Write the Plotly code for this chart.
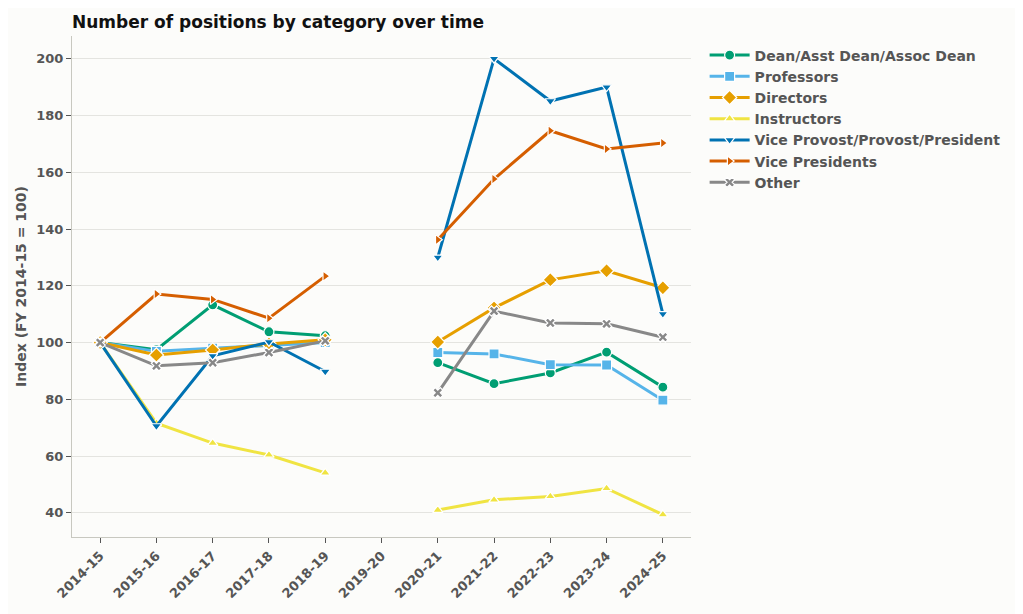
import plotly.graph_objects as go

years = ["2014-15", "2015-16", "2016-17", "2017-18", "2018-19", "2019-20",
         "2020-21", "2021-22", "2022-23", "2023-24", "2024-25"]

dean = [100, 97.5, 113.3, 103.8, 102.4, None, 92.9, 85.5, 89.3, 96.6, 84.3]
professors = [100, 96.9, 98.0, 99.0, 100.0, None, 96.5, 96.0, 92.2, 92.1, 79.7]
directors = [100, 95.6, 97.4, 99.5, 101.0, None, 100.2, 112.2, 122.1, 125.3, 119.3]
instructors = [100, 71.6, 64.6, 60.4, 54.1, None, 41.0, 44.6, 45.8, 48.6, 39.4]
vp_provost = [100, 70.6, 95.3, 100.2, 89.8, None, 130.0, 200.0, 185.1, 190.0, 110.1]
vice_presidents = [100, 117.1, 115.2, 108.6, 123.4, None, 136.2, 157.6, 174.6, 168.2, 170.3]
other = [100, 91.8, 92.9, 96.5, 100.6, None, 82.3, 111.1, 106.9, 106.6, 101.9]

series = [
    ("Dean/Asst Dean/Assoc Dean", dean, "#009E73", "circle", 10),
    ("Professors", professors, "#56B4E9", "square", 10),
    ("Directors", directors, "#E69F00", "diamond", 11),
    ("Instructors", instructors, "#F0E442", "triangle-up", 9),
    ("Vice Provost/Provost/President", vp_provost, "#0072B2", "triangle-down", 9),
    ("Vice Presidents", vice_presidents, "#D55E00", "triangle-right", 9),
    ("Other", other, "#888888", "x", 9),
]

fig = go.Figure()
for name, vals, color, symbol, size in series:
    fig.add_trace(go.Scatter(
        x=years, y=vals, name=name, mode="lines+markers",
        line=dict(color=color, width=3),
        marker=dict(symbol=symbol, size=size, color=color,
                    line=dict(color="white", width=1.2)),
        connectgaps=False,
    ))

axis_font = dict(family="DejaVu Sans", size=13, color="#555555", weight="bold")

# page body has an 8px margin, so everything is shifted by 8px
fig.update_layout(
    width=1023, height=614,
    paper_bgcolor="#fcfcfa", plot_bgcolor="#fcfcfa",
    margin=dict(l=64, r=340, t=28, b=85),
    title=dict(text="Number of positions by category over time",
               x=64 / 1023, xanchor="left", y=1 - 14 / 614, yanchor="middle",
               font=dict(family="DejaVu Sans", size=17, color="#111111", weight="bold")),
    legend=dict(x=1.022, y=0.993, xanchor="left", yanchor="top",
                font=dict(family="DejaVu Sans", size=14, color="#555555", weight="bold"),
                bgcolor="rgba(0,0,0,0)", tracegroupgap=0, itemwidth=40),
    showlegend=True,
)
fig.update_xaxes(
    type="category", range=[-0.5, 10.5], categoryorder="array", categoryarray=years,
    showgrid=False, showline=True, linecolor="#c8c8c0", linewidth=1.2,
    ticks="outside", tickcolor="#555555", ticklen=5, tickangle=-45,
    tickfont=axis_font, zeroline=False, automargin=False,
)
fig.update_yaxes(
    range=[31.5, 208], tickvals=[40, 60, 80, 100, 120, 140, 160, 180, 200],
    showgrid=True, gridcolor="#e4e4e0", gridwidth=1,
    showline=True, linecolor="#c8c8c0", linewidth=1.2,
    ticks="outside", tickcolor="#555555", ticklen=5,
    tickfont=axis_font, zeroline=False, automargin=False,
    title=dict(text="Index (FY 2014-15 = 100)", standoff=6,
               font=dict(family="DejaVu Sans", size=14, color="#555555", weight="bold")),
)

fig.write_html("out.html")
